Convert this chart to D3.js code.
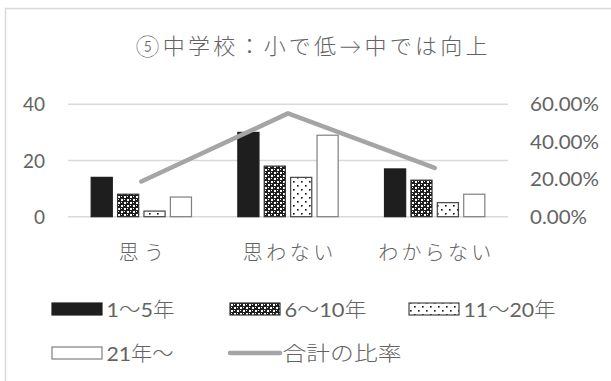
<!DOCTYPE html>
<html>
<head>
<meta charset="utf-8">
<script src="https://cdn.jsdelivr.net/npm/d3@7"></script>
<style>
  html, body { margin: 0; padding: 0; background: #fff; }
  svg { display: block; }
  text { font-family: Lato, "Noto Sans CJK JP", sans-serif; fill: #636363; font-weight: 300; }
  tspan.num { font-weight: 400; }
  .axis text { font-weight: 400; font-family: Lato, sans-serif; }
</style>
</head>
<body>
<script>
// Survey answers by teaching experience, with the share of the total per answer
const categories = ["思う", "思わない", "わからない"];
const seriesNames = ["1〜5年", "6〜10年", "11〜20年", "21年〜"];
const yrs1to5   = [14, 30, 17];
const yrs6to10  = [8, 18, 13];
const yrs11to20 = [2, 14, 5];
const yrs21plus = [7, 29, 8];
const lineName = "合計の比率";
const leftTicks = [0, 20, 40];
const rightTicks = [0, 0.2, 0.4, 0.6];
const title = "⑤中学校：小で低→中では向上";

const seriesValues = [yrs1to5, yrs6to10, yrs11to20, yrs21plus];
const totals = categories.map((c, i) => d3.sum(seriesValues, s => s[i]));
const grand = d3.sum(totals);
const ratio = totals.map(t => t / grand);

const W = 611, H = 381;
const svg = d3.select("body").append("svg").attr("width", W).attr("height", H);

// fill patterns for the hatched series
const defs = svg.append("defs");
const p1 = defs.append("pattern").attr("id", "pat-check")
  .attr("patternUnits", "userSpaceOnUse").attr("width", 6).attr("height", 6);
p1.append("rect").attr("width", 6).attr("height", 6).attr("fill", "#1e1e1e");
p1.append("rect").attr("x", 1).attr("y", 1).attr("width", 2).attr("height", 2).attr("fill", "#fff");
p1.append("rect").attr("x", 4).attr("y", 4).attr("width", 2).attr("height", 2).attr("fill", "#fff");
p1.append("rect").attr("x", 4).attr("y", 1).attr("width", 1).attr("height", 1).attr("fill", "#fff");
p1.append("rect").attr("x", 1).attr("y", 4).attr("width", 1).attr("height", 1).attr("fill", "#fff");

const p2 = defs.append("pattern").attr("id", "pat-dots")
  .attr("patternUnits", "userSpaceOnUse").attr("width", 8).attr("height", 8);
p2.append("rect").attr("width", 8).attr("height", 8).attr("fill", "#fff");
p2.append("rect").attr("x", 1).attr("y", 1).attr("width", 1.6).attr("height", 1.6).attr("fill", "#111");
p2.append("rect").attr("x", 5).attr("y", 5).attr("width", 1.6).attr("height", 1.6).attr("fill", "#111");

const fills = ["#1e1e1e", "url(#pat-check)", "url(#pat-dots)", "#fff"];
const strokes = ["#1e1e1e", "#333", "#444", "#7f7f7f"];

// chart frame
svg.append("rect").attr("x", 5.5).attr("y", 8.5).attr("width", 700).attr("height", 500)
  .attr("fill", "none").attr("stroke", "#d9d9d9").attr("stroke-width", 1.5);

// title
svg.append("text").attr("x", 311.5).attr("y", 45).attr("text-anchor", "middle")
  .attr("dominant-baseline", "central").attr("font-size", 22)
  .attr("textLength", 352).attr("lengthAdjust", "spacing").text(title);

const plotL = 68, plotR = 508, plotT = 104.3, plotB = 216.7;
const x0 = d3.scaleBand().domain(categories).range([plotL, plotR]).padding(0);
const x1 = d3.scaleBand().domain(seriesNames)
  .range([x0.bandwidth() * 0.158, x0.bandwidth() * 0.842]).paddingInner(0.2);
const y = d3.scaleLinear().domain([0, 40]).range([plotB, plotT]);
const y2 = d3.scaleLinear().domain([0, 0.6]).range([plotB, plotT]);

// gridlines
svg.append("g").selectAll("line").data(leftTicks).join("line")
  .attr("x1", plotL).attr("x2", plotR)
  .attr("y1", d => y(d)).attr("y2", d => y(d))
  .attr("stroke", "#d9d9d9").attr("stroke-width", 1.5);

// left axis
const leftAxis = svg.append("g").attr("class", "axis").attr("transform", `translate(45,0)`)
  .call(d3.axisLeft(y).tickValues(leftTicks).tickSize(0).tickPadding(0));
leftAxis.select(".domain").remove();
leftAxis.selectAll("text").attr("font-size", 19).attr("dy", "0.35em")
  .attr("textLength", d => String(d).length * 11).attr("lengthAdjust", "spacingAndGlyphs");

// right axis
const fmtPct = d3.format(".2%");
const rightAxis = svg.append("g").attr("class", "axis").attr("transform", `translate(530,0)`)
  .call(d3.axisRight(y2).tickValues(rightTicks).tickSize(0).tickPadding(0)
    .tickFormat(fmtPct));
rightAxis.select(".domain").remove();
rightAxis.selectAll("text").attr("font-size", 19).attr("dy", "0.35em")
  .attr("textLength", d => fmtPct(d).length === 6 ? 69 : 57)
  .attr("lengthAdjust", "spacingAndGlyphs");

// category labels
svg.append("g").selectAll("text").data(categories).join("text")
  .attr("x", d => x0(d) + x0.bandwidth() / 2).attr("y", 252)
  .attr("text-anchor", "middle").attr("dominant-baseline", "central")
  .attr("font-size", 20)
  .attr("textLength", d => d.length * 22.6).attr("lengthAdjust", "spacing")
  .text(d => d);

// bars
const barData = [];
categories.forEach((c, ci) => seriesNames.forEach((s, si) => {
  barData.push({ c, s, si, v: seriesValues[si][ci] });
}));
svg.append("g").selectAll("rect").data(barData).join("rect")
  .attr("x", d => x0(d.c) + x1(d.s))
  .attr("y", d => y(d.v))
  .attr("width", x1.bandwidth())
  .attr("height", d => y(0) - y(d.v))
  .attr("fill", d => fills[d.si])
  .attr("stroke", d => strokes[d.si])
  .attr("stroke-width", 1.2);

// ratio line
const line = d3.line()
  .x((d, i) => x0(categories[i]) + x0.bandwidth() / 2)
  .y(d => y2(d));
svg.append("path").datum(ratio).attr("d", line)
  .attr("fill", "none").attr("stroke", "#a5a5a5").attr("stroke-width", 4.5)
  .attr("stroke-linecap", "round").attr("stroke-linejoin", "round");

// legend
const legendItems = [
  { name: seriesNames[0], x: 52, y: 309, type: "bar", si: 0, w: 68 },
  { name: seriesNames[1], x: 230, y: 309, type: "bar", si: 1, w: 82 },
  { name: seriesNames[2], x: 409, y: 309, type: "bar", si: 2, w: 92 },
  { name: seriesNames[3], x: 52, y: 353, type: "bar", si: 3, w: 67 },
  { name: lineName, x: 228, y: 353, type: "line", w: 119 }
];
const lg = svg.append("g").selectAll("g").data(legendItems).join("g")
  .attr("transform", d => `translate(${d.x},${d.y})`);
lg.filter(d => d.type === "bar").append("rect")
  .attr("x", 0).attr("y", -6).attr("width", 50).attr("height", 12)
  .attr("fill", d => fills[d.si]).attr("stroke", d => strokes[d.si]).attr("stroke-width", 1.2);
lg.filter(d => d.type === "line").append("line")
  .attr("x1", 2).attr("x2", 52).attr("y1", 0).attr("y2", 0)
  .attr("stroke", "#a5a5a5").attr("stroke-width", 4.5).attr("stroke-linecap", "round");
const lt = lg.append("text")
  .attr("x", 54.5).attr("y", 0)
  .attr("dominant-baseline", "central").attr("font-size", 20)
  .attr("textLength", d => d.w).attr("lengthAdjust", "spacingAndGlyphs");
// digits in a regular weight, Japanese in the lighter one
lt.selectAll("tspan").data(d => d.name.match(/[0-9]+|[^0-9]+/g)).join("tspan")
  .attr("class", s => /^[0-9]/.test(s) ? "num" : null)
  .text(s => s);
</script>
</body>
</html>
